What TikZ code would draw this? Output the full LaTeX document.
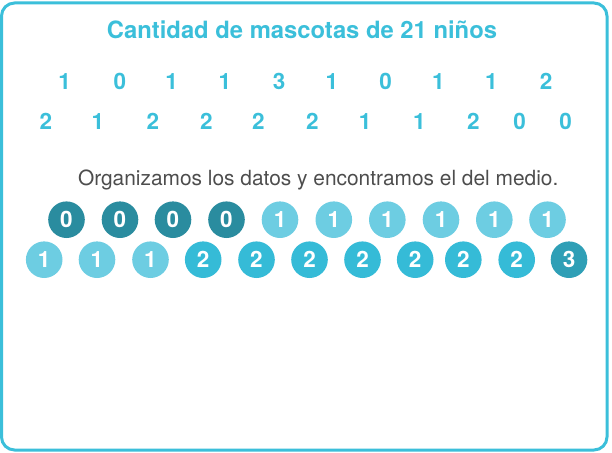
\documentclass[tikz,border=0pt]{standalone}
\usepackage{fontspec}
\setmainfont{TeX Gyre Heros}
\definecolor{cyanline}{HTML}{3BBFDA}
\definecolor{graytext}{HTML}{4D4D4D}
\definecolor{dotzero}{HTML}{2A8C9F}
\definecolor{dotone}{HTML}{6DCDE2}
\definecolor{dottwo}{HTML}{35BBD7}
\definecolor{dotthree}{HTML}{2F9FB6}
\tikzset{
  rawnum/.style={anchor=base, text=cyanline, font=\fontsize{22.5}{26}\selectfont\bfseries},
  dot/.style={circle, inner sep=0pt, minimum size=36.6pt, text=white,
    font=\fontsize{22.5}{26}\selectfont\bfseries},
}
\begin{document}
\begin{tikzpicture}[x=1pt,y=-1pt]
\useasboundingbox (0,0) rectangle (612,452);

\draw[cyanline, line width=3pt, rounded corners=13pt] (1.5,3) rectangle (607,450);

\node[anchor=base, text=cyanline, font=\fontsize{23.8}{28}\selectfont\bfseries] (title) at (302,38.3) {Cantidad de mascotas de 21 niños};

% data as collected
\foreach \x/\v [count=\i] in {64.7/1,120/0,171.7/1,225/1,279/3,331.8/1,385.6/0,438.3/1,491.3/1,546/2}
  \node[rawnum] (a\i) at (\x,89) {\v};
\foreach \x/\v [count=\i] in {46/2,98/1,153/2,206.3/2,258.4/2,312.3/2,365/1,419.3/1,473.3/2,519.7/0,565.5/0}
  \node[rawnum] (b\i) at (\x,129.3) {\v};

\node[anchor=base west, text=graytext, font=\fontsize{20.9}{25}\selectfont] (note) at (74.5,185) {Organizamos los datos y encontramos el del medio.};

% ordered data
\foreach \x/\v/\c [count=\i] in {66.5/0/dotzero,120/0/dotzero,173/0/dotzero,226.5/0/dotzero,280/1/dotone,333.8/1/dotone,387.3/1/dotone,441/1/dotone,494.3/1/dotone,547.5/1/dotone}
  \node[dot, fill=\c] (p\i) at (\x,219.7) {\v};
\foreach \x/\v/\c [count=\i] in {44.2/1/dotone,97/1/dotone,150.5/1/dotone,203.2/2/dottwo,256.5/2/dottwo,309.5/2/dottwo,362.5/2/dottwo,415.2/2/dottwo,463.3/2/dottwo,516.7/2/dottwo,569/3/dotthree}
  \node[dot, fill=\c] (q\i) at (\x,259.7) {\v};

\end{tikzpicture}
\end{document}
